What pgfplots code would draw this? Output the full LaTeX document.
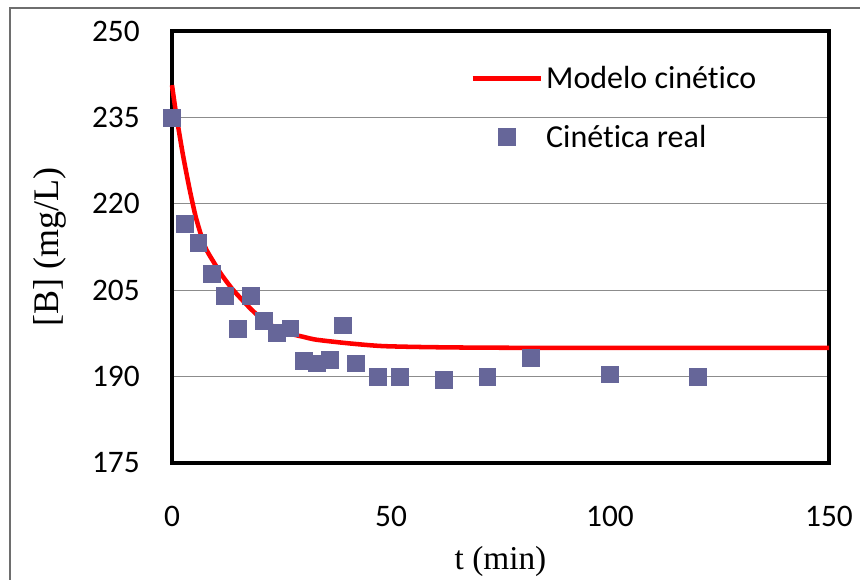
\documentclass[border=0pt]{standalone}
\usepackage{fontspec}
\setmainfont{Carlito}[RawFeature=-liga]
\newfontfamily\timesf{Liberation Serif}
\usepackage{pgfplots}
\pgfplotsset{compat=1.18}
\definecolor{markblue}{HTML}{666699}
\definecolor{gridgray}{HTML}{8C8C8C}
\definecolor{framegray}{HTML}{6E6E6E}

\begin{document}
\begin{tikzpicture}
  \useasboundingbox (-129pt,-87.75pt) rectangle (516pt,347.25pt);
  \draw[framegray, line width=0.8pt] (-121.5pt,-87.75pt) -- (-121.5pt,341.25pt) -- (516pt,341.25pt);
  \begin{axis}[
    scale only axis,
    width=492.75pt, height=324pt,
    xmin=0, xmax=150, ymin=175, ymax=250,
    xtick={0,50,100,150},
    ytick={175,190,205,220,235,250},
    major tick length=0pt,
    ymajorgrids,
    grid style={gridgray, line width=0.8pt},
    axis line style={black, line width=2.3pt},
    /pgf/number format/assume math mode=true,
    ticklabel style={font=\fontsize{23.5}{27}\selectfont},
    yticklabel style={anchor=east, inner sep=0pt, xshift=-24pt},
    xticklabel style={anchor=center, inner sep=0pt, yshift=-40pt},
    xlabel={\timesf t (min)},
    ylabel={\timesf [B] (mg/L)},
    xlabel style={font=\fontsize{25}{29}\selectfont, at={(axis description cs:0.5,-0.229)}, anchor=center},
    ylabel style={font=\fontsize{27}{31}\selectfont, at={(axis description cs:-0.186,0.5)}, anchor=center, rotate=0},
    legend style={draw=none, fill=none, at={(axis description cs:0.4536,0.927)},
      anchor=north west, inner sep=0pt, row sep=21pt,
      font=\fontsize{24}{28}\selectfont,
      nodes={inner sep=2.5pt}},
    legend cell align=left,
    legend image code/.code={\draw[mark repeat=2,mark phase=2,#1] plot coordinates {(0pt,0pt) (25.5pt,0pt) (51pt,0pt)};},
    clip=false,
  ]
    \addplot[red, line width=3.4pt, smooth, tension=0.4] coordinates {
      (0,240.6) (1,235.3) (2.5,228.5) (4,222.6) (5.5,217.5) (7.5,212.6)
      (9.5,209.9) (11.3,207.7) (14,205.0) (17.8,201.9) (21,199.7)
      (25.4,197.8) (30,196.9) (33,196.4) (40,195.8) (48,195.3)
      (60,195.1) (80,195.0) (150,195.0)
    };
    \addlegendentry{Modelo cinético}
    \addplot[only marks, mark=square*, mark size=6.3pt, color=markblue] coordinates {
      (0,235) (3,216.6) (6,213.3) (9,207.8) (12,204) (15,198.3) (18,204)
      (21,199.7) (24,197.6) (27,198.4) (30,192.8) (33,192.3) (36,192.9)
      (39,198.9) (42,192.3) (47,190) (52,190) (62,189.4) (72,190)
      (82,193.2) (100,190.4) (120,190)
    };
    \addlegendentry{Cinética real}
  \end{axis}
\end{tikzpicture}
\end{document}
